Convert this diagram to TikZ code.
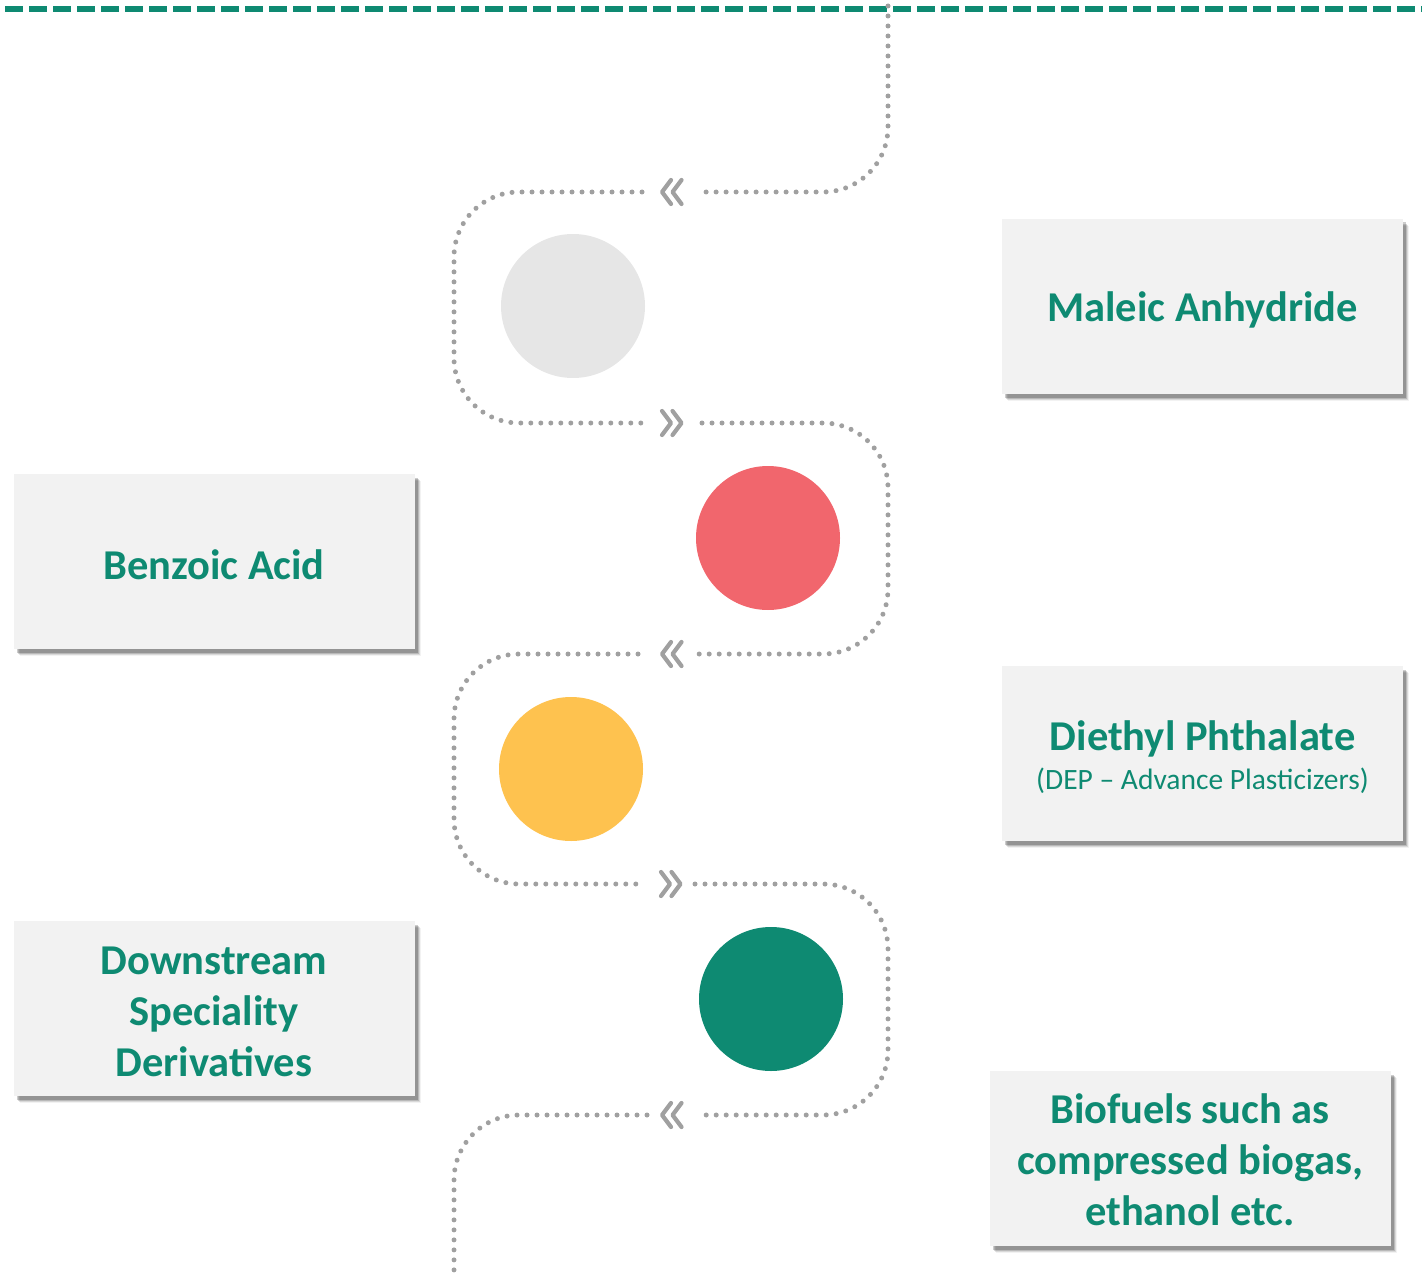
\documentclass[tikz,border=0pt]{standalone}
\usepackage{fontspec}
\setmainfont{Carlito}
\usetikzlibrary{shadows}
\definecolor{tgreen}{HTML}{0E8A72}
\definecolor{tred}{HTML}{F1666D}
\definecolor{tyellow}{HTML}{FEC24F}
\definecolor{tgray}{HTML}{E6E6E6}
\definecolor{boxfill}{HTML}{F2F2F2}
\definecolor{dotgray}{HTML}{A0A0A0}
\begin{document}
\begin{tikzpicture}[x=1pt,y=-1pt,
  infobox/.style={rectangle, fill=boxfill, minimum width=401pt, minimum height=175pt,
    inner sep=0pt,
    general shadow={shadow xshift=6pt,shadow yshift=-7pt,fill=black,opacity=0.05},
    general shadow={shadow xshift=5pt,shadow yshift=-6pt,fill=black,opacity=0.1},
    general shadow={shadow xshift=4pt,shadow yshift=-5pt,fill=black,opacity=0.15},
    general shadow={shadow xshift=3pt,shadow yshift=-3.5pt,fill=black,opacity=0.2}},
  boxtext/.style={inner sep=0pt, align=center, text=tgreen,
    font=\fontsize{42.5}{51}\selectfont\bfseries},
  subtext/.style={inner sep=0pt, align=center, text=tgreen,
    font=\fontsize{29.5}{34}\selectfont},
  dotline/.style={draw=dotgray, line width=5pt, line cap=round,
    dash pattern=on 0pt off 10pt, rounded corners=65pt},
  chev/.style={draw=dotgray, line width=4.2pt, line cap=round, line join=round},
  dot/.style={circle, minimum size=144pt, inner sep=0pt}
]
\useasboundingbox (0,0) rectangle (1422,1276);
% top dashed line
\draw[tgreen, line width=5.5pt, dash pattern=on 18pt off 6pt] (5,9) -- (1430,9);

% dotted path
\draw[dotline] (888,6) -- (888,192) -- (701,192);
\draw[dotline] (642,192) -- (454,192) -- (454,423) -- (642,423);
\draw[dotline] (702,423) -- (888,423) -- (888,654) -- (698,654);
\draw[dotline] (638,654) -- (454,654) -- (454,884) -- (637,884);
\draw[dotline] (695,884) -- (888,884) -- (888,1115) -- (705,1115);
\draw[dotline] (647,1115) -- (454,1115) -- (454,1285);

% chevrons
\newcommand{\leftchev}[2]{%
  \draw[chev] (#1+9,#2-12) -- (#1,#2) -- (#1+9,#2+12);
  \draw[chev] (#1+19.5,#2-12) -- (#1+10.5,#2) -- (#1+19.5,#2+12);}
\newcommand{\rightchev}[2]{%
  \draw[chev] (#1,#2-12) -- (#1+9,#2) -- (#1,#2+12);
  \draw[chev] (#1+10.5,#2-12) -- (#1+19.5,#2) -- (#1+10.5,#2+12);}
\leftchev{662}{192}
\rightchev{662}{423}
\leftchev{662}{654}
\rightchev{661}{884}
\leftchev{662}{1115}

% circles
\node[dot, fill=tgray] (c1) at (573,306) {};
\node[dot, fill=tred] (c2) at (768,538) {};
\node[dot, fill=tyellow] (c3) at (571,769) {};
\node[dot, fill=tgreen] (c4) at (771,999) {};

% boxes
\node[infobox] (b1) at (1202.5,306.5) {};
\node[infobox] (b2) at (214,561.5) {};
\node[infobox] (b3) at (1202.5,753.5) {};
\node[infobox] (b4) at (214,1008.5) {};
\node[infobox] (b5) at (1190,1158.5) {};

% texts
\node[boxtext] (t1) at ([yshift=-3pt]b1.center) {Maleic Anhydride};
\node[boxtext] (t2) at ([yshift=-3pt]b2.center) {Benzoic Acid};
\node[boxtext] (t3) at ([yshift=15pt]b3.center) {Diethyl Phthalate};
\node[subtext] (t3b) at ([yshift=-27pt]b3.center) {(DEP -- Advance Plasticizers)};
\node[boxtext] (t4) at ([yshift=-3pt]b4.center) {Downstream\\Speciality\\Derivatives};
\node[boxtext] (t5) at ([yshift=-1pt]b5.center) {Biofuels such as\\compressed biogas,\\ethanol etc.};
\end{tikzpicture}
\end{document}
